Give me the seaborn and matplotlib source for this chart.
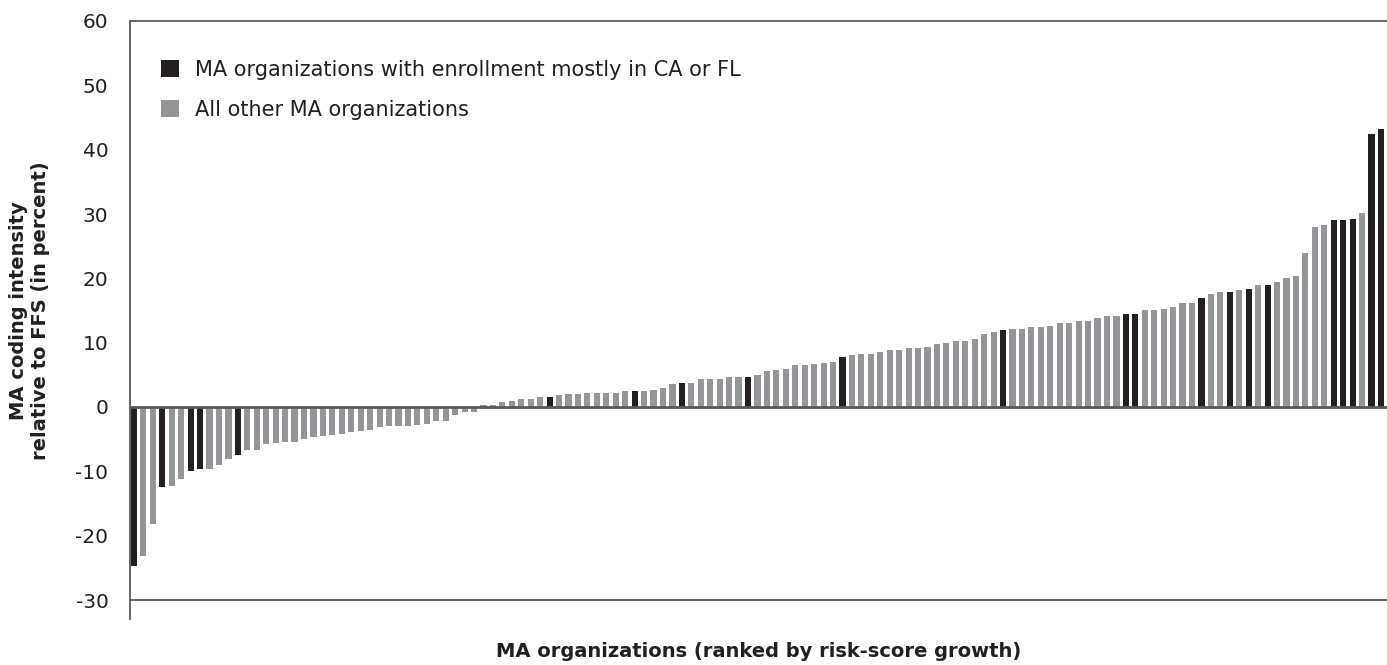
import numpy as np
import matplotlib
matplotlib.use("Agg")
import matplotlib.pyplot as plt
import pandas as pd
import seaborn as sns

# coding intensity per MA organization, ranked by risk-score growth
intensity = [
    -24.7, -23.2, -18.2, -12.45, -12.3, -11.2, -9.96, -9.65, -9.65, -9.0,
    -8.1, -7.5, -6.7, -6.7, -5.8, -5.6, -5.5, -5.5, -5.0, -4.7,
    -4.5, -4.4, -4.2, -3.9, -3.75, -3.6, -3.1, -3.0, -3.0, -3.0,
    -2.8, -2.7, -2.2, -2.2, -1.3, -0.8, -0.8, 0.25, 0.25, 0.85,
    1.0, 1.3, 1.3, 1.5, 1.6, 1.8, 1.95, 1.95, 2.1, 2.25,
    2.25, 2.25, 2.55, 2.55, 2.56, 2.7, 3.0, 3.65, 3.8, 3.8,
    4.3, 4.4, 4.4, 4.6, 4.7, 4.7, 4.9, 5.65, 5.8, 5.95,
    6.6, 6.6, 6.75, 6.9, 7.05, 7.7, 8.15, 8.3, 8.3, 8.6,
    8.8, 8.9, 9.1, 9.1, 9.4, 9.85, 10.0, 10.2, 10.3, 10.6,
    11.4, 11.7, 11.9, 12.2, 12.2, 12.5, 12.5, 12.65, 13.1, 13.1,
    13.3, 13.4, 13.9, 14.2, 14.2, 14.4, 14.4, 15.1, 15.1, 15.3,
    15.6, 16.1, 16.2, 17.0, 17.6, 17.8, 17.8, 18.2, 18.4, 18.9,
    19.0, 19.5, 20.1, 20.3, 24.0, 28.0, 28.3, 29.0, 29.1, 29.3,
    30.2, 42.4, 43.2,
]

# ranks (1-based) of organizations with enrollment mostly in CA or FL
ca_fl_ranks = [1, 4, 7, 8, 12, 45, 54, 59, 66, 76, 93, 106, 107, 114,
               117, 119, 121, 128, 129, 130, 132, 133]

groups = ["MA organizations with enrollment mostly in CA or FL",
          "All other MA organizations"]
colors = ["#231f20", "#939598"]

rank = list(range(1, len(intensity) + 1))
df = pd.DataFrame({
    "rank": rank,
    "intensity": intensity,
    "group": [groups[0] if r in ca_fl_ranks else groups[1] for r in rank],
})

sns.set_style("white")
plt.rcParams["font.family"] = ["DejaVu Sans"]
plt.rcParams["axes.unicode_minus"] = False

fig = plt.figure(figsize=(13.87, 6.65), dpi=100)
ax = fig.add_axes([130 / 1387, 65 / 665, 1257 / 1387, 579 / 665])

sns.barplot(data=df, x="rank", y="intensity", hue="group", hue_order=groups,
            palette=dict(zip(groups, colors)), dodge=False, width=0.65,
            saturation=1, linewidth=0, ax=ax)

ax.axhline(0, color="#58595b", lw=2, zorder=3)

ax.set_ylim(-30, 60)
ax.set_xlim(-0.42, 132.64)
ax.set_yticks(range(-30, 61, 10))
ax.set_xticks([])
ax.tick_params(axis="y", length=9.5, width=1.3, color="#58595b",
               labelsize=14.5, labelcolor="#231f20", pad=6)

for s in ["top", "bottom", "left"]:
    ax.spines[s].set_color("#58595b")
    ax.spines[s].set_linewidth(1.3)
ax.spines["right"].set_visible(False)
ax.spines["left"].set_bounds(-32.9, 60)

ax.set_xlabel("MA organizations (ranked by risk-score growth)",
              fontsize=14, fontweight="bold", color="#231f20", labelpad=30)
ax.set_ylabel("MA coding intensity\nrelative to FFS (in percent)",
              fontsize=14, fontweight="bold", color="#231f20", labelpad=18)

leg = ax.legend(loc="upper left", bbox_to_anchor=(0.0098, 0.965),
                frameon=False, fontsize=15, handlelength=0.85,
                handleheight=0.85, handletextpad=0.8, labelspacing=0.95)
for t in leg.get_texts():
    t.set_color("#231f20")

fig.savefig("out.png", dpi=100)
